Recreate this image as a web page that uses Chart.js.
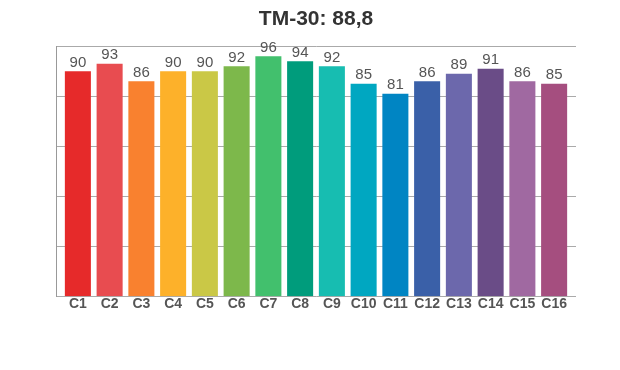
<!DOCTYPE html>
<html>
<head>
<meta charset="utf-8">
<script src="https://cdn.jsdelivr.net/npm/chart.js@4"></script>
<style>
  html, body { margin: 0; padding: 0; background: #fff; }
  #wrap { width: 620px; height: 370px; }
</style>
</head>
<body>
<div id="wrap"><canvas id="c" width="620" height="370"></canvas></div>
<script>
// ── Dados
const categorias = ['C1','C2','C3','C4','C5','C6','C7','C8','C9','C10','C11','C12','C13','C14','C15','C16'];
const valores    = [90, 93, 86, 90, 90, 92, 96, 94, 92, 85, 81, 86, 89, 91, 86, 85];
const cores      = ['#e62a2a','#e84c50','#f9812f','#fdb12a','#cac846','#7db84b','#42c06d','#009c7c',
                    '#17bdb1','#00a7c1','#0085c3','#3a60a8','#6c68ac','#6a4c87','#a069a1','#a54e7f'];
const titulo     = 'TM-30: 88,8';

const FONTE = '"Liberation Sans", Arial, sans-serif';
const EXT = 6; // a grade passa um pouco além da área das barras

// ── Grade horizontal + eixo esquerdo (a partir da escala y), e rótulos de valor
const valorLabels = {
  id: 'valorLabels',
  beforeDatasetsDraw(chart) {
    const { ctx, chartArea: a, scales: { y } } = chart;
    const L = Math.round(a.left - EXT) + 0.5;
    const R = Math.round(a.right + EXT);
    ctx.save();
    ctx.lineWidth = 1;
    ctx.strokeStyle = '#aaa';
    y.ticks.forEach(t => {
      const py = Math.round(y.getPixelForValue(t.value)) + 0.5;
      ctx.beginPath();
      ctx.moveTo(L, py);
      ctx.lineTo(R, py);
      ctx.stroke();
    });
    ctx.strokeStyle = '#999';
    ctx.beginPath();
    ctx.moveTo(L, Math.round(a.top));
    ctx.lineTo(L, Math.round(a.bottom) + 1);
    ctx.stroke();
    ctx.restore();
  },
  afterDatasetsDraw(chart) {
    const ctx = chart.ctx;
    const meta = chart.getDatasetMeta(0);
    ctx.save();
    ctx.font = '15px ' + FONTE;
    ctx.fillStyle = '#555';
    ctx.textAlign = 'center';
    ctx.textBaseline = 'bottom';
    meta.data.forEach((bar, i) => {
      ctx.fillText(String(valores[i]), bar.x, bar.y - 1);
    });
    ctx.restore();
  }
};

new Chart(document.getElementById('c').getContext('2d'), {
  type: 'bar',
  data: {
    labels: categorias,
    datasets: [{ data: valores, backgroundColor: cores, borderWidth: 0, barPercentage: 0.82, categoryPercentage: 1 }]
  },
  options: {
    responsive: false,
    animation: false,
    layout: { padding: { left: 62, right: 50, top: 1, bottom: 57 } },
    plugins: {
      legend: { display: false },
      tooltip: { enabled: false },
      title: {
        display: true, text: titulo, color: '#333',
        font: { family: FONTE, size: 21, weight: 'bold' },
        padding: { top: 6, bottom: 14 }
      }
    },
    scales: {
      x: {
        grid: { display: false, drawTicks: false },
        border: { display: false },
        ticks: { color: '#555', padding: 0, font: { family: FONTE, size: 14, weight: 'bold' } }
      },
      y: {
        min: 0, max: 100,
        ticks: { display: false, stepSize: 20 },
        grid: { display: false, drawTicks: false },
        border: { display: false }
      }
    }
  },
  plugins: [valorLabels]
});
</script>
</body>
</html>
